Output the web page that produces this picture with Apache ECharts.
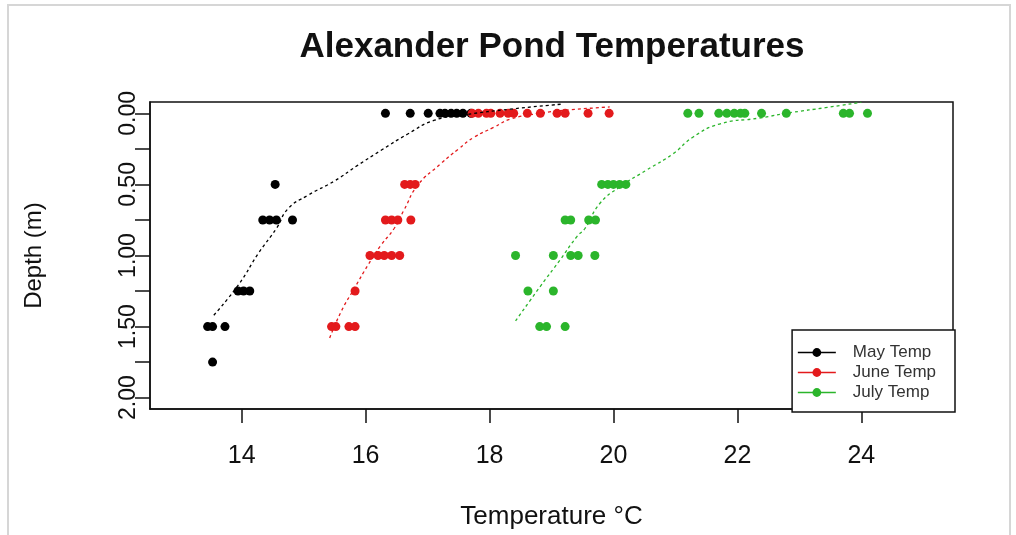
<!DOCTYPE html>
<html>
<head>
<meta charset="utf-8">
<script src="https://cdn.jsdelivr.net/npm/echarts@6/dist/echarts.min.js"></script>
<style>
html,body{margin:0;padding:0;background:#fff;}
#chart{width:1016px;height:535px;}
</style>
</head>
<body>
<div id="chart"></div>
<script>
// ---- Data ----
var xTicks = [14, 16, 18, 20, 22, 24];
var yTickMarks = [0, 0.25, 0.5, 0.75, 1, 1.25, 1.5, 1.75, 2];
var yTickLabels = [0, 0.5, 1, 1.5, 2];

var seriesNames = ['May Temp', 'June Temp', 'July Temp'];

var mayTemp  = [16.32, 16.72, 17.01, 17.2, 17.28, 17.38, 17.47, 17.57, 17.7,
                14.54,
                14.34, 14.45, 14.56, 14.82,
                13.94, 14.03, 14.13,
                13.45, 13.53, 13.73,
                13.53];
var mayDepth = [0, 0, 0, 0, 0, 0, 0, 0, 0,
                0.5,
                0.75, 0.75, 0.75, 0.75,
                1.25, 1.25, 1.25,
                1.5, 1.5, 1.5,
                1.75];

var juneTemp  = [17.72, 17.82, 17.95, 18.02, 18.17, 18.3, 18.39, 18.61, 18.82, 19.09, 19.22, 19.59, 19.93,
                 16.63, 16.72, 16.8,
                 16.32, 16.42, 16.52, 16.73,
                 16.07, 16.2, 16.3, 16.42, 16.55,
                 15.83,
                 15.45, 15.52, 15.73, 15.83];
var juneDepth = [0, 0, 0, 0, 0, 0, 0, 0, 0, 0, 0, 0, 0,
                 0.5, 0.5, 0.5,
                 0.75, 0.75, 0.75, 0.75,
                 1, 1, 1, 1, 1,
                 1.25,
                 1.5, 1.5, 1.5, 1.5];

var julyTemp  = [21.2, 21.38, 21.7, 21.83, 21.95, 22.05, 22.12, 22.39, 22.79, 23.71, 23.81, 24.1,
                 19.81, 19.91, 20.0, 20.1, 20.2,
                 19.22, 19.31, 19.6, 19.71,
                 18.42, 19.03, 19.31, 19.43, 19.7,
                 18.62, 19.03,
                 18.81, 18.92, 19.22];
var julyDepth = [0, 0, 0, 0, 0, 0, 0, 0, 0, 0, 0, 0,
                 0.5, 0.5, 0.5, 0.5, 0.5,
                 0.75, 0.75, 0.75, 0.75,
                 1, 1, 1, 1, 1,
                 1.25, 1.25,
                 1.5, 1.5, 1.5];

// fitted (dotted) trend curves
var mayFitTemp   = [13.55, 13.95, 14.27, 14.56, 14.75, 15.07, 15.5, 15.87, 16.25, 16.68, 17.1, 17.6, 18.34, 19.17];
var mayFitDepth  = [1.42, 1.205, 0.984, 0.81, 0.67, 0.576, 0.475, 0.366, 0.26, 0.145, 0.05, 0.01, -0.03, -0.065];
var juneFitTemp  = [15.42, 15.61, 15.82, 16.04, 16.25, 16.46, 16.62, 16.84, 17.21, 17.5, 17.75, 18.07, 18.34, 18.8, 19.3, 19.94];
var juneFitDepth = [1.58, 1.39, 1.23, 1.066, 0.926, 0.81, 0.68, 0.506, 0.355, 0.25, 0.168, 0.098, 0.04, 0.0, -0.025, -0.045];
var julyFitTemp  = [18.42, 18.82, 19.14, 19.41, 19.54, 19.78, 20.1, 20.53, 20.96, 21.28, 21.71, 22.35, 22.89, 23.42, 24.0];
var julyFitDepth = [1.46, 1.217, 1.03, 0.867, 0.81, 0.634, 0.518, 0.40, 0.285, 0.168, 0.075, 0.033, -0.007, -0.04, -0.078];

var colors = ['#000000', '#e31a1c', '#2bb52b'];

function pairs(xs, ys) { return xs.map(function (x, i) { return [x, ys[i]]; }); }

var FONT = "'Liberation Sans', Arial, Helvetica, sans-serif";

var pointSets = [pairs(mayTemp, mayDepth), pairs(juneTemp, juneDepth), pairs(julyTemp, julyDepth)];
var fitSets = [pairs(mayFitTemp, mayFitDepth), pairs(juneFitTemp, juneFitDepth), pairs(julyFitTemp, julyFitDepth)];

var series = [];
pointSets.forEach(function (d, i) {
  series.push({
    name: seriesNames[i],
    type: 'line',
    data: d,
    symbol: 'circle',
    symbolSize: 9,
    showSymbol: true,
    itemStyle: { color: colors[i] },
    lineStyle: { width: 0, color: colors[i] },
    z: 2 + i,
    silent: true
  });
});
fitSets.forEach(function (d, i) {
  series.push({
    type: 'line',
    data: d,
    smooth: true,
    showSymbol: false,
    symbol: 'none',
    lineStyle: { width: 1.3, color: colors[i], type: [3, 3] },
    z: 6,
    silent: true
  });
});

var chart = echarts.init(document.getElementById('chart'), null, { renderer: 'canvas' });
chart.setOption({
  animation: false,
  backgroundColor: '#ffffff',
  textStyle: { fontFamily: FONT },
  title: {
    text: 'Alexander Pond Temperatures',
    left: 547,
    top: 25,
    textAlign: 'center',
    textStyle: { fontFamily: FONT, fontSize: 35, fontWeight: 'bold', color: '#111' }
  },
  graphic: [{
    type: 'rect',
    shape: { x: 8, y: 5, width: 1002, height: 545 },
    style: { fill: null, stroke: '#d6d6d6', lineWidth: 2 },
    silent: true, z: -10
  }],
  grid: {
    left: 150, right: 63, top: 102, bottom: 123,
    show: true, borderColor: '#111', borderWidth: 1.5, backgroundColor: 'transparent'
  },
  legend: {
    data: seriesNames,
    orient: 'vertical',
    right: 61,
    bottom: 123,
    backgroundColor: '#fff',
    borderColor: '#111',
    borderWidth: 1.5,
    borderRadius: 0,
    padding: [14, 19, 11, 5],
    itemWidth: 38,
    itemHeight: 11,
    itemGap: 3,
    lineStyle: { width: 1.5 },
    textStyle: { fontFamily: FONT, fontSize: 17, color: '#333', padding: [0, 0, 0, 12] },
    selectedMode: false,
    z: 20
  },
  xAxis: {
    type: 'value',
    min: 12.52,
    max: 25.48,
    name: 'Temperature °C',
    nameLocation: 'middle',
    nameGap: 95,
    nameTextStyle: { fontFamily: FONT, fontSize: 26, color: '#111' },
    axisLine: { show: true, onZero: false, lineStyle: { color: '#111', width: 1.5 } },
    axisTick: { show: true, length: 14, customValues: xTicks, lineStyle: { color: '#111', width: 1.5 } },
    axisLabel: { customValues: xTicks, margin: 35, fontFamily: FONT, fontSize: 25, color: '#111' },
    splitLine: { show: false }
  },
  yAxis: {
    type: 'value',
    inverse: true,
    min: -0.08,
    max: 2.08,
    name: 'Depth (m)',
    nameLocation: 'middle',
    nameGap: 104,
    nameRotate: 90,
    nameTextStyle: { fontFamily: FONT, fontSize: 24, color: '#111' },
    axisLine: { show: true, onZero: false, lineStyle: { color: '#111', width: 1.5 } },
    axisTick: { show: true, length: 15, customValues: yTickMarks, lineStyle: { color: '#111', width: 1.5 } },
    axisLabel: {
      customValues: yTickLabels,
      rotate: 90,
      margin: 10,
      fontFamily: FONT, fontSize: 23, color: '#111',
      formatter: function (v) { return Number(v).toFixed(2); }
    },
    splitLine: { show: false }
  },
  series: series
});
</script>
</body>
</html>
